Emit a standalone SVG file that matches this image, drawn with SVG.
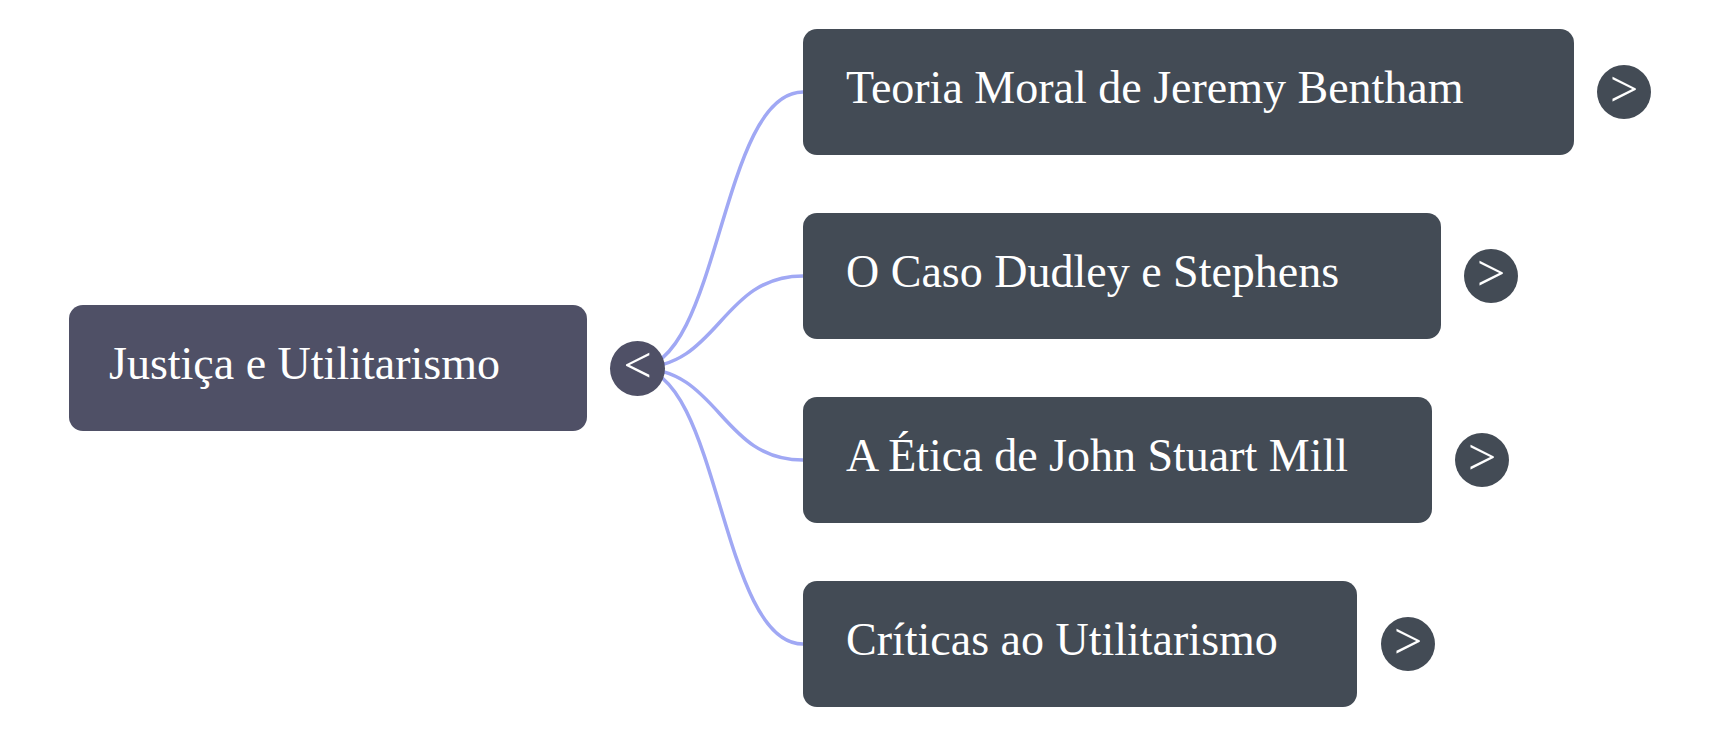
<svg xmlns="http://www.w3.org/2000/svg" width="1720" height="737" viewBox="0 0 1720 737">
<style>
.root{fill:#4f5066}
.child{fill:#434b55}
.lbl{font-family:"Liberation Serif","Times New Roman",serif;font-size:46px;fill:#ffffff}
.tog{font-family:"Liberation Serif","Times New Roman",serif;font-size:50px;fill:#ffffff;text-anchor:middle}
.edge{fill:none;stroke:#a0a8f4;stroke-width:3.5}
</style>
<rect width="1720" height="737" fill="#ffffff"/>
<g id="connectors">
<path class="edge" d="M637 368 C720 368,720 92,803 92"/>
<path class="edge" d="M637 368 C720 368,720 276,803 276"/>
<path class="edge" d="M637 368 C720 368,720 460,803 460"/>
<path class="edge" d="M637 368 C720 368,720 644,803 644"/>
</g>
<g id="root">
<rect class="root" x="69" y="305" width="518" height="126" rx="14"/>
<text class="lbl" x="109" y="379">Justiça e Utilitarismo</text>
<circle class="root" cx="637.5" cy="368.5" r="27.5"/>
<text class="tog" x="637.5" y="382">&lt;</text>
</g>
<g id="n1">
<rect class="child" x="803" y="29" width="771" height="126" rx="14"/>
<text class="lbl" x="846" y="103">Teoria Moral de Jeremy Bentham</text>
<circle class="child" cx="1624" cy="92" r="27"/>
<text class="tog" x="1624" y="106">&gt;</text>
</g>
<g id="n2">
<rect class="child" x="803" y="213" width="638" height="126" rx="14"/>
<text class="lbl" x="846" y="287">O Caso Dudley e Stephens</text>
<circle class="child" cx="1491" cy="276" r="27"/>
<text class="tog" x="1491" y="290">&gt;</text>
</g>
<g id="n3">
<rect class="child" x="803" y="397" width="629" height="126" rx="14"/>
<text class="lbl" x="846" y="471">A Ética de John Stuart Mill</text>
<circle class="child" cx="1482" cy="460" r="27"/>
<text class="tog" x="1482" y="474">&gt;</text>
</g>
<g id="n4">
<rect class="child" x="803" y="581" width="554" height="126" rx="14"/>
<text class="lbl" x="846" y="655">Críticas ao Utilitarismo</text>
<circle class="child" cx="1408" cy="644" r="27"/>
<text class="tog" x="1408" y="658">&gt;</text>
</g>
</svg>
